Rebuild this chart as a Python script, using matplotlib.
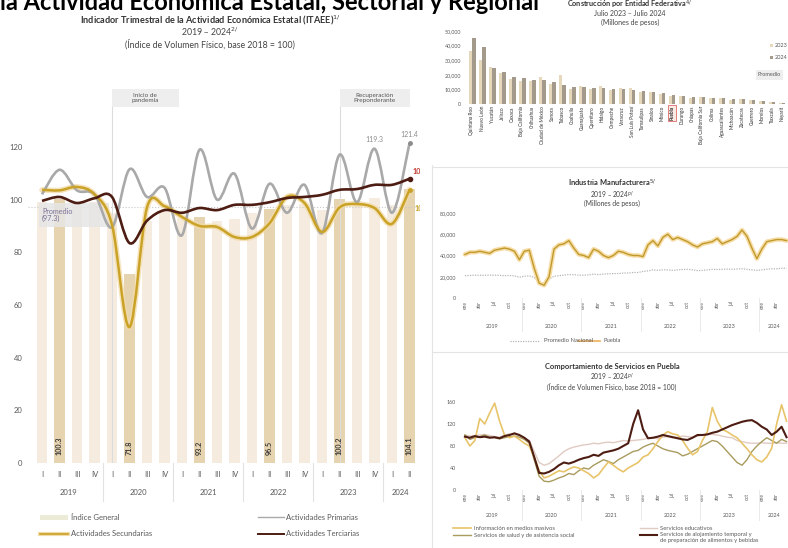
import numpy as np
import matplotlib
matplotlib.use("Agg")
import matplotlib.pyplot as plt
from matplotlib.path import Path
from matplotlib.patches import PathPatch, Rectangle
from matplotlib.lines import Line2D

plt.rcParams['font.family'] = ['Lato', 'DejaVu Sans']

# ---------------- ITAEE (trimestral) ----------------
quarters = ["I", "II", "III", "IV"] * 5 + ["I", "II"]
years = ["2019", "2020", "2021", "2022", "2023", "2024"]
indice_general = [99.0, 100.3, 98.5, 99.0, 95.0, 71.8, 92.0, 95.5, 93.0, 93.2, 92.0, 92.5,
                  95.0, 96.5, 98.0, 98.5, 96.0, 100.2, 99.5, 100.5, 98.0, 104.1]
primarias = [102.0, 111.3, 103.5, 102.0, 89.5, 111.5, 101.0, 104.5, 86.5, 118.9, 100.0, 109.8,
             89.0, 106.0, 95.0, 105.6, 87.3, 117.0, 99.0, 119.3, 95.0, 121.4]
secundarias = [103.7, 103.5, 104.8, 102.0, 90.4, 51.6, 97.0, 97.5, 93.4, 90.0, 89.6, 85.8,
               85.8, 91.0, 101.0, 98.7, 87.7, 97.0, 98.3, 96.8, 90.8, 103.7]
terciarias = [99.5, 101.0, 98.7, 100.5, 101.0, 83.5, 92.0, 96.0, 95.0, 96.8, 96.0, 98.0,
              98.0, 99.0, 100.6, 101.0, 101.8, 103.7, 104.0, 105.6, 105.6, 107.9]
promedio_itaee = 97.3

# ---------------- Construcción por entidad ----------------
estados = ["Quintana Roo", "Nuevo León", "Yucatán", "Jalisco", "Oaxaca", "Baja California",
           "Chihuahua", "Ciudad de México", "Sonora", "Tabasco", "Coahuila", "Guanajuato",
           "Querétaro", "Hidalgo", "Campeche", "Veracruz", "San Luis Potosí", "Tamaulipas",
           "Sinaloa", "México", "Puebla", "Durango", "Chiapas", "Baja California Sur",
           "Colima", "Aguascalientes", "Michoacán", "Zacatecas", "Guerrero", "Morelos",
           "Tlaxcala", "Nayarit"]
constr_2023 = [36000, 30000, 25000, 21500, 17000, 16000, 15500, 18500, 14000, 20000, 10500, 12500,
               10000, 12000, 9500, 11000, 10800, 8500, 8200, 7000, 5800, 5500, 4200, 5000,
               3800, 4200, 3000, 3600, 2800, 2200, 1500, 900]
constr_2024 = [45200, 39000, 24600, 22000, 18500, 17800, 16400, 16400, 15000, 13000, 11600, 11600,
               11000, 10800, 10500, 10200, 9800, 9000, 8000, 7500, 6500, 5200, 4800, 4500,
               4300, 4000, 3500, 3200, 2500, 1800, 1200, 700]

# ---------------- Industria manufacturera (miles de millones de pesos) ----------------
meses = ["ene", "abr", "jul", "oct"]
puebla_manuf = [41, 43, 43, 44, 43, 42, 45, 46, 47, 46, 44, 36,
                44, 45, 28, 14, 12, 20, 46, 50, 51, 54, 47, 41,
                40, 38, 46, 44, 40, 38, 40, 44, 43, 41, 40, 40,
                39, 50, 54, 49, 57, 60, 55, 57, 55, 53, 50, 48,
                51, 52, 53, 56, 51, 53, 55, 58, 64, 58, 47, 37,
                46, 53, 54, 55, 55, 54]
nacional_manuf = [21.0, 21.2, 21.5, 21.3, 21.4, 21.6, 21.5, 21.3, 21.0, 21.2, 20.8, 19.5,
                  20.5, 20.8, 19.5, 14.0, 14.5, 17.5, 20.5, 21.0, 21.5, 22.0, 22.0, 21.5,
                  21.5, 21.8, 22.5, 22.0, 22.5, 22.8, 23.0, 23.0, 23.5, 23.5, 24.0, 24.0,
                  25.0, 25.5, 26.5, 26.0, 26.5, 26.5, 26.0, 26.5, 26.8, 27.0, 26.5, 25.8,
                  26.0, 26.5, 27.0, 26.8, 27.0, 27.2, 27.0, 27.3, 27.5, 27.0, 26.5, 26.0,
                  26.5, 27.0, 27.5, 27.5, 28.0, 28.0]

# ---------------- Servicios en Puebla ----------------
informacion = [95, 80, 90, 130, 120, 140, 158, 125, 100, 95, 98, 92,
               85, 80, 60, 35, 22, 25, 30, 35, 33, 38, 42, 40,
               35, 30, 22, 28, 40, 51, 45, 38, 33, 40, 45, 50,
               60, 64, 75, 88, 100, 106, 102, 100, 90, 76, 64, 70,
               90, 106, 150, 125, 110, 106, 100, 95, 85, 75, 64, 55,
               51, 60, 76, 120, 155, 125]
educativos = [100, 98, 99, 100, 101, 99, 97, 96, 100, 102, 101, 99,
              95, 90, 70, 50, 45, 48, 55, 62, 70, 75, 78, 80,
              82, 83, 85, 84, 86, 87, 86, 88, 90, 89, 90, 91,
              92, 94, 95, 93, 96, 97, 95, 96, 98, 97, 96, 98,
              100, 102, 101, 100, 98, 96, 95, 90, 88, 86, 85, 85,
              86, 85, 85, 86, 85, 85]
salud = [100, 92, 95, 97, 100, 96, 95, 93, 95, 97, 98, 96,
         92, 85, 55, 25, 16, 15, 18, 22, 25, 30, 28, 35,
         40, 38, 45, 50, 55, 52, 48, 55, 60, 65, 70, 72,
         78, 82, 85, 80, 75, 72, 70, 68, 62, 65, 70, 75,
         80, 85, 90, 88, 80, 70, 60, 50, 45, 55, 70, 80,
         88, 95, 90, 85, 92, 88]
alojamiento = [97, 95, 98, 96, 97, 95, 96, 94, 98, 100, 103, 100,
               95, 88, 60, 31, 30, 33, 38, 45, 50, 48, 51, 55,
               58, 60, 64, 62, 68, 70, 72, 75, 80, 85, 120, 145,
               110, 94, 95, 97, 100, 98, 96, 94, 92, 91, 95, 100,
               100, 101, 104, 106, 110, 114, 118, 121, 124, 126, 127, 122,
               115, 110, 100, 106, 115, 96]

W, H = 788, 548
GRAY = "#595959"


def fx(x):
    return x / W


def fy(y):
    return 1 - y / H


def box(l, t, r, b):
    return [l / W, 1 - b / H, (r - l) / W, (b - t) / H]


def smooth_path(xs, ys):
    # curva suave que pasa por cada punto (Catmull-Rom en Bezier)
    pts = np.column_stack([xs, ys]).astype(float)
    p = np.vstack([pts[:1], pts, pts[-1:]])
    verts = [pts[0]]
    codes = [Path.MOVETO]
    for i in range(1, len(p) - 2):
        c1 = p[i] + (p[i + 1] - p[i - 1]) / 6
        c2 = p[i + 1] - (p[i + 2] - p[i]) / 6
        verts += [c1, c2, p[i + 1]]
        codes += [Path.CURVE4] * 3
    return Path(verts, codes)


def fig_line(fig, x0, x1, y, **kw):
    fig.add_artist(Line2D([fx(x0), fx(x1)], [fy(y), fy(y)], transform=fig.transFigure, **kw))


def main():
    fig = plt.figure(figsize=(W / 100, H / 100), dpi=100)

    # cut-off page header
    fig.text(0.0, fy(9.5), "la Actividad Económica Estatal, Sectorial y Regional",
             fontsize=17, fontweight="bold", color="black", va="baseline", ha="left")

    # panel separators
    fig.add_artist(Line2D([fx(432), fx(432)], [fy(165), fy(548)], transform=fig.transFigure,
                          color="#e4e4e4", lw=0.8))
    fig_line(fig, 432, 788, 167, color="#e4e4e4", lw=0.8)
    fig_line(fig, 432, 788, 352, color="#e4e4e4", lw=0.8)

    # ======================= left: ITAEE =======================
    fig.text(fx(210), fy(20), r"Indicador Trimestral de la Actividad Económica Estatal (ITAEE)$^{1/}$",
             fontsize=6.6, fontweight="bold", color="#333333", ha="center", va="center")
    fig.text(fx(210), fy(32), r"2019 – 2024$^{2/}$", fontsize=6.3, color="#444444",
             ha="center", va="center")
    fig.text(fx(210), fy(44), "(Índice de Volumen Físico, base 2018 = 100)", fontsize=6.3,
             color="#444444", ha="center", va="center")

    ax = fig.add_axes(box(28, 85, 420, 463))
    x = np.arange(len(quarters))
    bar_colors = ["#e6d3b0" if q == "II" else "#f6ebdf" for q in quarters]
    ax.bar(x, indice_general, width=0.62, color=bar_colors, zorder=1)
    for i, q in enumerate(quarters):
        if q == "II":
            ax.text(i, 3, f"{indice_general[i]:.1f}", rotation=90, ha="center", va="bottom",
                    fontsize=5.2, fontweight="bold", color="#3a3a3a", zorder=6)

    ax.axhline(promedio_itaee, color="#c9c9c9", ls=":", lw=0.8, zorder=2)
    ax.add_patch(Rectangle((-0.15, 89.6), 4.0, 9.1, fc="#e6e6e6", ec="none", alpha=0.85, zorder=2))
    ax.text(0.0, 94.2, f"Promedio\n({promedio_itaee})", fontsize=5.2, color="#7b6f95",
            ha="left", va="center", linespacing=1.0, zorder=7)

    for xi, w, label in [(4, 3.8, "Inicio de\npandemia"), (17, 4.0, "Recuperación\nPreponderante")]:
        ax.plot([xi, xi], [0, 135], color="#dcdcdc", lw=0.8, zorder=1.5)
        ax.add_patch(Rectangle((xi, 135), w, 6.8, fc="#eeeeee", ec="none", zorder=2, clip_on=False))
        ax.text(xi + w / 2, 138.4, label, fontsize=4.6, color="#555555", ha="center", va="center",
                linespacing=1.0, zorder=3)

    ax.add_patch(PathPatch(smooth_path(x, secundarias), fill=False, ec="#f3dcaa", lw=4.0,
                           alpha=0.8, zorder=3, capstyle="round"))
    ax.add_patch(PathPatch(smooth_path(x, primarias), fill=False, ec="#a9a9a9", lw=1.9, zorder=4))
    ax.add_patch(PathPatch(smooth_path(x, secundarias), fill=False, ec="#c9a227", lw=1.8, zorder=5))
    ax.add_patch(PathPatch(smooth_path(x, terciarias), fill=False, ec="#4d1c12", lw=1.9, zorder=6))

    last = len(x) - 1
    ax.plot(last, primarias[-1], "o", ms=2.5, color="#8c8c8c", zorder=7)
    ax.plot(last, secundarias[-1], "o", ms=2.5, color="#c9a227", zorder=7)
    ax.plot(last, terciarias[-1], "o", ms=3, color="#4d1c12", zorder=7)
    ax.text(19, primarias[19] + 2, f"{primarias[19]:.1f}", fontsize=5, color="#8c8c8c",
            ha="center", va="bottom", clip_on=True)
    ax.text(last, primarias[-1] + 2, f"{primarias[-1]:.1f}", fontsize=5, color="#8c8c8c",
            ha="center", va="bottom", clip_on=True)
    ax.text(last + 0.2, terciarias[-1] + 1.5, f"{terciarias[-1]:.1f}", fontsize=5.2,
            fontweight="bold", color="#c0392b", ha="left", va="bottom", clip_on=True)
    ax.text(last + 0.3, secundarias[-1] - 7, f"{secundarias[-1]:.1f}", fontsize=5.2,
            fontweight="bold", color="#c9a227", ha="left", va="center", clip_on=True)

    ax.set_xlim(-0.8, 21.6)
    ax.set_ylim(0, 143.5)
    ax.set_yticks(range(0, 121, 20))
    ax.set_xticks(x)
    ax.set_xticklabels(quarters)
    ax.tick_params(axis="x", length=0, labelsize=5.5, labelcolor=GRAY, pad=5.5)
    ax.tick_params(axis="y", length=0, labelsize=5.5, labelcolor=GRAY, pad=4)
    for s in ax.spines.values():
        s.set_visible(False)
    tr = ax.get_xaxis_transform()
    for k, yr in enumerate(years):
        first = 4 * k
        lastq = min(first + 3, len(x) - 1)
        ax.text((first + lastq) / 2, -0.077, yr, transform=tr, fontsize=5.5, color=GRAY,
                ha="center", va="center")
        if k > 0:
            ax.plot([first - 0.5, first - 0.5], [0, -0.1], transform=tr, color="#e2e2e2",
                    lw=0.8, clip_on=False)

    # left legend
    fig.add_artist(Rectangle((fx(40), fy(519.5)), fx(28), 5 / H, transform=fig.transFigure,
                             fc="#ecebd8", ec="none"))
    fig.text(fx(71), fy(517), "Índice General", fontsize=5.5, color=GRAY, va="center")
    fig_line(fig, 40, 68, 534, color="#f3dcaa", lw=3)
    fig_line(fig, 40, 68, 534, color="#c9a227", lw=1.2)
    fig.text(fx(71), fy(534), "Actividades Secundarias", fontsize=5.5, color=GRAY, va="center")
    fig_line(fig, 258, 284, 517, color="#a9a9a9", lw=1.0)
    fig.text(fx(286), fy(517), "Actividades Primarias", fontsize=5.5, color=GRAY, va="center")
    fig_line(fig, 258, 284, 534, color="#4d1c12", lw=1.4)
    fig.text(fx(286), fy(534), "Actividades Terciarias", fontsize=5.5, color=GRAY, va="center")

    # ======================= right top: Construcción =======================
    fig.text(fx(630), fy(5), r"Construcción por Entidad Federativa$^{4/}$", fontsize=5.2,
             fontweight="bold", color="#333333", ha="center", va="center")
    fig.text(fx(630), fy(14), "Julio 2023 – Julio 2024", fontsize=5, color="#444444",
             ha="center", va="center")
    fig.text(fx(630), fy(22.5), "(Millones de pesos)", fontsize=5, color="#444444",
             ha="center", va="center")

    axc = fig.add_axes(box(465, 25, 788, 104))
    xs = np.arange(len(estados))
    axc.bar(xs - 0.18, constr_2023, width=0.34, color="#e6d9bb", zorder=2)
    axc.bar(xs + 0.18, constr_2024, width=0.34, color="#a39a8c", zorder=2)
    axc.set_xlim(-0.7, 31.6)
    axc.set_ylim(0, 54100)
    axc.set_yticks(range(0, 50001, 10000))
    axc.set_yticklabels([f"{v:,}" for v in range(0, 50001, 10000)])
    axc.set_xticks(xs)
    axc.set_xticklabels(estados, rotation=90, fontsize=3.4, color="#333333")
    axc.tick_params(axis="x", length=0, pad=1.5)
    axc.tick_params(axis="y", length=0, labelsize=3.9, labelcolor=GRAY, pad=3)
    for s in axc.spines.values():
        s.set_visible(False)
    for lbl in axc.get_xticklabels():
        if lbl.get_text() == "Puebla":
            lbl.set_fontweight("bold")
            lbl.set_bbox(dict(fc="#fbe9e4", ec="#d9534f", lw=0.5, pad=0.8))
    fig.add_artist(Rectangle((fx(770), fy(47)), 3 / W, 3 / H, transform=fig.transFigure,
                             fc="#e6d9bb", ec="none"))
    fig.text(fx(775), fy(45.5), "2023", fontsize=4, color=GRAY, va="center")
    fig.add_artist(Rectangle((fx(770), fy(59)), 3 / W, 3 / H, transform=fig.transFigure,
                             fc="#a39a8c", ec="none"))
    fig.text(fx(775), fy(57.5), "2024", fontsize=4, color=GRAY, va="center")
    fig.text(fx(758), fy(75), "Promedio", fontsize=4, color=GRAY, va="center",
             bbox=dict(fc="#eeeeee", ec="none", pad=1.5))

    # ======================= right middle: Manufacturas =======================
    fig.text(fx(612), fy(183.5), r"Industria Manufacturera$^{5/}$", fontsize=5.4,
             fontweight="bold", color="#333333", ha="center", va="center")
    fig.text(fx(612), fy(195), r"2019 – 2024$^{p/}$", fontsize=4.8, color="#444444",
             ha="center", va="center")
    fig.text(fx(612), fy(203), "(Millones de pesos)", fontsize=4.8, color="#444444",
             ha="center", va="center")

    m = np.arange(len(puebla_manuf))
    axm = fig.add_axes(box(460, 208, 790, 298))
    axm.plot(m, nacional_manuf, color="#b5b5b5", lw=0.9, ls=(0, (1, 1)))
    axm.plot(m, puebla_manuf, color="#f7dca6", lw=3.2, solid_capstyle="round")
    axm.plot(m, puebla_manuf, color="#bf9a2c", lw=1.0)
    axm.set_xlim(-1, 65.7)
    axm.set_ylim(0, 84.7)
    axm.set_yticks(range(0, 81, 20))
    axm.set_yticklabels([f"{v * 1000:,}" for v in range(0, 81, 20)])

    axs = fig.add_axes(box(460, 395, 790, 490))
    axs.plot(m, educativos, color="#e0cbc3", lw=1.0)
    axs.plot(m, salud, color="#a99b5e", lw=1.0)
    axs.plot(m, informacion, color="#e8c46a", lw=1.2)
    axs.plot(m, alojamiento, color="#4d1c12", lw=1.5)
    axs.set_xlim(-1, 65.7)
    axs.set_ylim(0, 172.7)
    axs.set_yticks(range(0, 161, 40))

    for a, yr_y in [(axm, -0.32), (axs, -0.27)]:
        a.set_xticks(range(0, len(m), 3))
        a.set_xticklabels([meses[i % 4] for i in range(len(range(0, len(m), 3)))],
                          rotation=90)
        a.tick_params(axis="x", length=0, labelsize=3.5, labelcolor=GRAY, pad=2)
        a.tick_params(axis="y", length=0, labelsize=3.9, labelcolor=GRAY, pad=3)
        for s in a.spines.values():
            s.set_visible(False)
        t = a.get_xaxis_transform()
        for k, yr in enumerate(years):
            first = 12 * k
            lastm = min(first + 11, len(m) - 1)
            a.text((first + lastm) / 2, yr_y, yr, transform=t, fontsize=4, color=GRAY,
                   ha="center", va="center")
            if k > 0:
                a.plot([first - 0.5, first - 0.5], [0, yr_y - 0.05], transform=t,
                       color="#e6e6e6", lw=0.6, clip_on=False)

    fig_line(fig, 510, 540, 341, color="#b5b5b5", lw=0.9, ls=(0, (1, 1)))
    fig.text(fx(544), fy(341), "Promedio Nacional", fontsize=4.2, color=GRAY, va="center")
    fig_line(fig, 578, 600, 341, color="#f0b25a", lw=1.2)
    fig.text(fx(603), fy(341), "Puebla", fontsize=4.2, color=GRAY, va="center")

    # ======================= right bottom: Servicios =======================
    fig.text(fx(612), fy(367), "Comportamiento de Servicios en Puebla", fontsize=5.4,
             fontweight="bold", color="#333333", ha="center", va="center")
    fig.text(fx(612), fy(377), r"2019 – 2024$^{p/}$", fontsize=4.8, color="#444444",
             ha="center", va="center")
    fig.text(fx(612), fy(387), "(Índice de Volumen Físico, base 2018 = 100)", fontsize=4.8,
             color="#444444", ha="center", va="center")

    fig_line(fig, 453, 471, 528, color="#e8c46a", lw=1.2)
    fig.text(fx(474), fy(528), "Información en medios masivos", fontsize=4.2, color=GRAY,
             va="center")
    fig_line(fig, 453, 471, 535, color="#a99b5e", lw=1.0)
    fig.text(fx(474), fy(535), "Servicios de salud y de asistencia social", fontsize=4.2,
             color=GRAY, va="center")
    fig_line(fig, 640, 657, 528, color="#e0cbc3", lw=1.0)
    fig.text(fx(660), fy(528), "Servicios educativos", fontsize=4.2, color=GRAY, va="center")
    fig_line(fig, 640, 657, 535, color="#4d1c12", lw=1.5)
    fig.text(fx(660), fy(532), "Servicios de alojamiento temporal y\nde preparación de alimentos y bebidas",
             fontsize=4.2, color=GRAY, va="top", linespacing=1.15)

    fig.savefig("out.png", dpi=100)


if __name__ == "__main__":
    main()
